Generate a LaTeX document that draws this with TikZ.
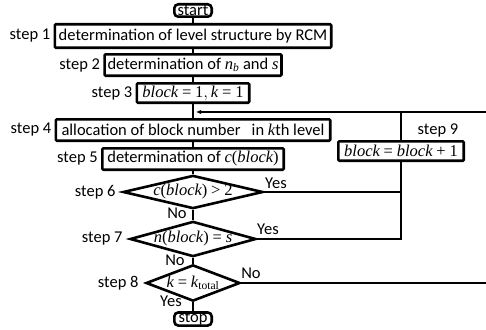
\documentclass[tikz,border=0pt]{standalone}
\usepackage{amsmath}
\usepackage[no-math]{fontspec}
\setmainfont{Carlito}
\newfontfamily\tmsfont{Liberation Serif}
\usetikzlibrary{arrows.meta,positioning,shapes.geometric,calc}
\newcommand{\mv}[1]{\text{\tmsfont\itshape #1}}
\newcommand{\mr}[1]{\text{\tmsfont\upshape #1}}
\newcommand{\meq}{\mathrel{\mr{=}}}
\thickmuskip=4mu
\tikzset{
  stepbox/.style={
    draw,line width=2.6pt,rounded corners=1pt,
    inner xsep=3pt,inner ysep=0pt,minimum height=21.4pt
  },
  terminal/.style={
    draw,line width=2.6pt,rounded corners=4pt,
    inner xsep=3pt,inner ysep=0pt,minimum width=37.4pt,minimum height=12.4pt
  },
  decision/.style={
    diamond,draw,line width=2.6pt,inner sep=-2pt
  },
  steplabel/.style={inner sep=0pt},
  flag/.style={inner sep=0pt},
  link/.style={line width=1.2pt,draw=black}
}

\begin{document}
\begin{tikzpicture}[x=1pt,y=-1pt,font=\fontsize{16.5}{19}\selectfont]
  \useasboundingbox (0,0) rectangle (486,329);
  % main column
  \node[terminal] (start) at (193,10.5) {start};
  \node[stepbox,minimum width=276.4pt,minimum height=23.4pt] (s1) at (193,36)
    {determination of level structure by RCM};
  \node[stepbox,minimum width=176pt] (s2) at (193,65)
    {determination of $\mv{n}_{\mv{b}}$ and $\mv{s}$};
  \node[stepbox,minimum width=112.4pt,minimum height=19.4pt] (s3) at (193,93)
    {$\mv{block}\meq\mr{1},\mv{k}\meq\mr{1}$};
  \node[stepbox,minimum width=274.4pt] (s4) at (193,130)
    {allocation of block number\ \ \ in $\mv{k}$th level};
  \node[stepbox,minimum width=181.4pt] (s5) at (193,159)
    {determination of $\mv{c}\mr{(}\mv{block}\mr{)}$};
  \node[decision,aspect=4.2,minimum width=140pt,minimum height=33.3pt] (d6) at (193,192)
    {$\mv{c}\mr{(}\mv{block}\mr{)}\mathrel{\mr{>}}\mr{2}$};
  \node[decision,aspect=3.57,minimum width=126pt,minimum height=35.3pt] (d7) at (193,239)
    {$\mv{n}\mr{(}\mv{block}\mr{)}\meq\mv{s}$};
  \node[decision,aspect=2.6,minimum width=94pt,minimum height=36.3pt] (d8) at (193,283)
    {$\mv{k}\meq\mv{k}_{\mr{total}}$};
  \node[terminal] (stop) at (193,319) {stop};
  % side branch
  \node[stepbox,minimum width=125.4pt,minimum height=19.4pt] (s9) at (401,151)
    {$\mv{block}\meq\mv{block}\mathbin{\mr{+}}\mr{1}$};

  % step numbers
  \node[steplabel,left=3pt of s1] {step 1};
  \node[steplabel,left=3pt of s2] {step 2};
  \node[steplabel,left=3pt of s3] {step 3};
  \node[steplabel,left=3pt of s4] {step 4};
  \node[steplabel,left=3pt of s5] {step 5};
  \node[steplabel,left=6pt of d6] {step 6};
  \node[steplabel,left=6pt of d7] {step 7};
  \node[steplabel,left=6pt of d8] {step 8};
  \node[steplabel] (l9) at (438,130) {step 9};

  % branch labels
  \node[flag] (yes6) at (276,183) {Yes};
  \node[flag] (no6) at (177,213) {No};
  \node[flag] (yes7) at (268,229) {Yes};
  \node[flag] (no7) at (175,260) {No};
  \node[flag] (no8) at (251,273) {No};
  \node[flag] (yes8) at (171,301) {Yes};

  % connectors
  \foreach \a/\b in {start/s1,s1/s2,s2/s3,s3/s4,s4/s5,s5/d6,d6/d7,d7/d8,d8/stop}
    \draw[link] (\a) -- (\b);
  \coordinate (join) at (193,112);
  \coordinate (edge) at (488,112);
  \draw[link] (d6.east) -- (d6.east -| s9.south);
  \draw[link] (d7.east) -- (d7.east -| s9.south) -- (s9.south);
  \draw[link] (s9.north) -- (s9.north |- join);
  \draw[link,-{Latex[length=5pt,width=4.5pt]}]
    (d8.east) -- (d8.east -| edge) -- (edge) -- ([xshift=3pt]join);
\end{tikzpicture}
\end{document}
